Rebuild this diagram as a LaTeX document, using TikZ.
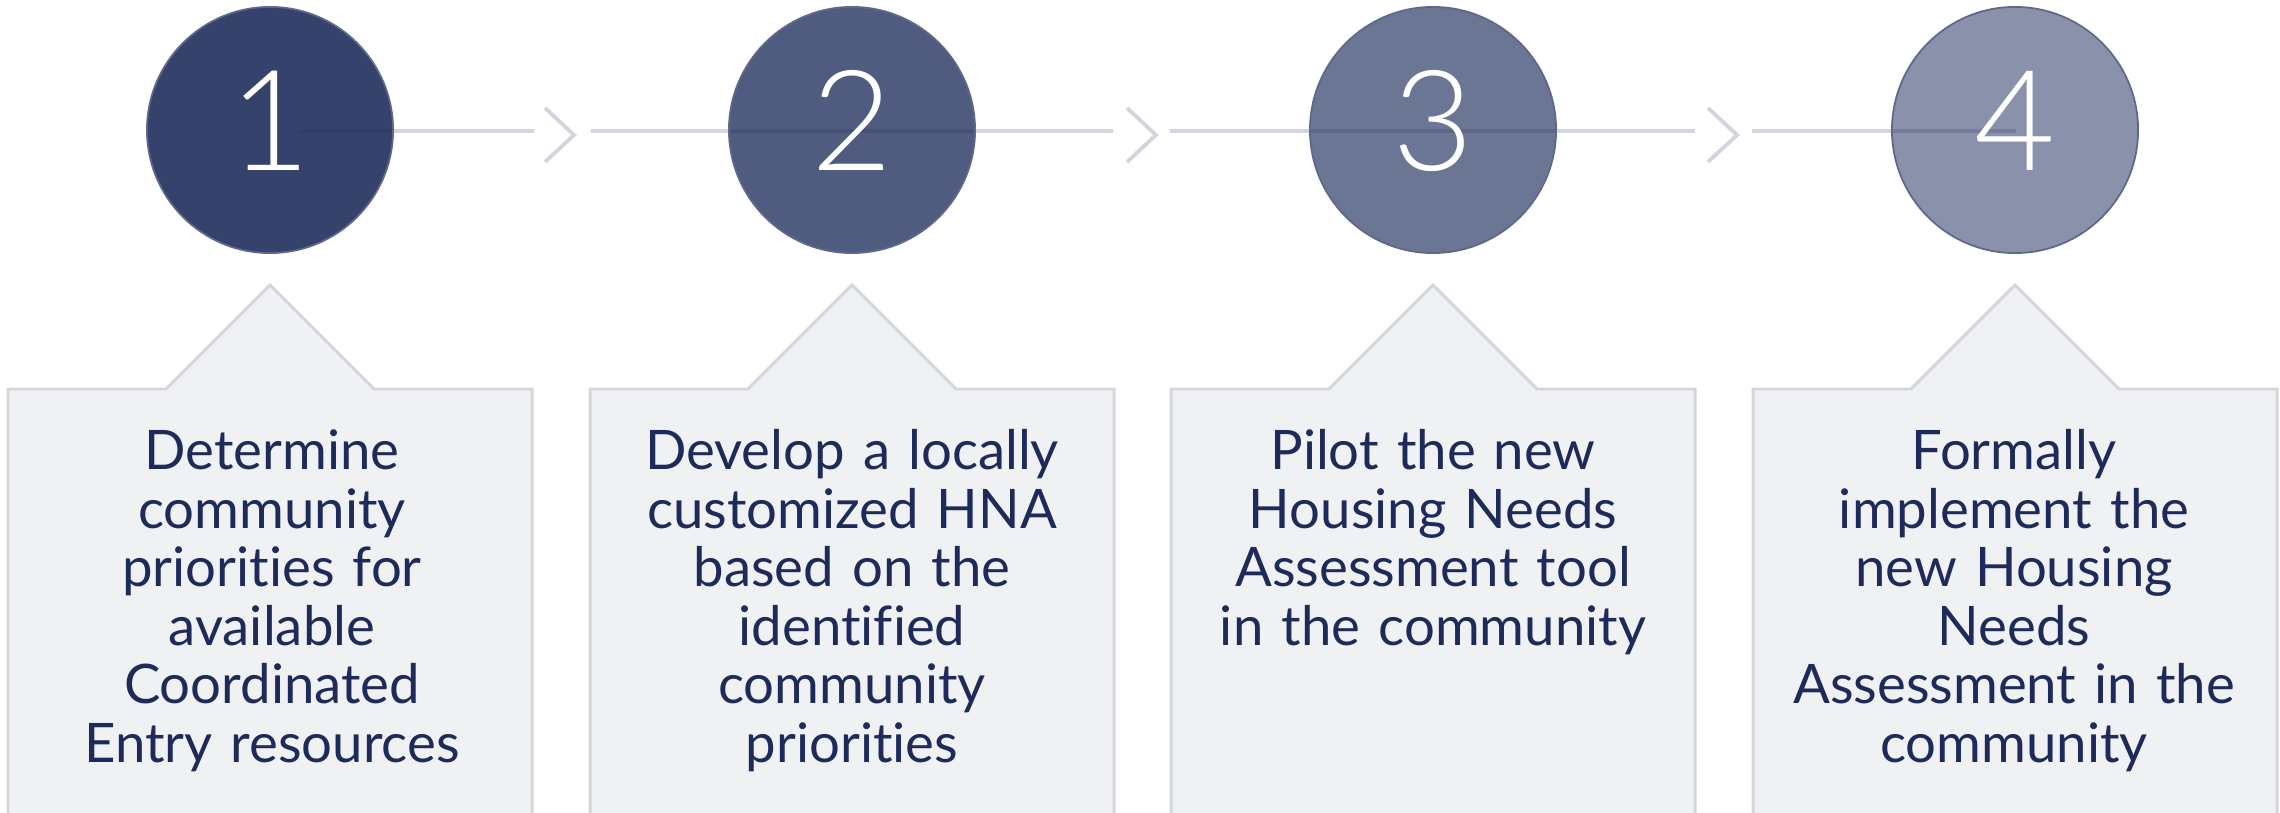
\documentclass[tikz,border=0pt]{standalone}
\usepackage{fontspec}
\setmainfont{Lato}[Ligatures={NoCommon}]
\newfontfamily\numfont{Lato Light}
\definecolor{navy}{HTML}{1F2D5C}
\definecolor{ruleline}{HTML}{D3D5DE}
\definecolor{panelfill}{HTML}{F0F1F3}
\definecolor{paneledge}{HTML}{D4D6DE}
\definecolor{ink}{HTML}{1E2A5A}
\begin{document}
\begin{tikzpicture}[x=0.01cm,y=-0.01cm,
  panel/.style={fill=panelfill,draw=paneledge,line width=0.85pt},
  flowline/.style={draw=ruleline,line width=1.2pt},
  chev/.style={draw=ruleline,line width=1.1pt,line join=miter},
  stepcircle/.style={circle,minimum size=2.46cm,inner sep=0pt,fill=navy,
    draw=navy!72,line width=0.5pt,text opacity=1},
  numtext/.style={anchor=base,inner sep=0pt,text=white,
    font=\numfont\fontsize{39.8}{40}\selectfont},
  steptext/.style={anchor=base,inner sep=0pt,text width=5cm,align=center,
    text=ink,font=\fontsize{15.5}{16.62}\selectfont}]
\useasboundingbox (0,0) rectangle (2280,813);
\clip (0,0) rectangle (2280,813);

% call-out panels with a pointed top
\foreach \cx in {270,852,1433,2015}{
  \path[panel] (\cx-262,840) -- (\cx-262,389) -- (\cx-104,389) -- (\cx,285)
    -- (\cx+104,389) -- (\cx+262,389) -- (\cx+262,840) -- cycle;
}

% timeline segments
\coordinate (l1a) at (300,131);  \coordinate (l1b) at (534,131);
\coordinate (l2a) at (591,131);  \coordinate (l2b) at (1113,131);
\coordinate (l3a) at (1170,131); \coordinate (l3b) at (1695,131);
\coordinate (l4a) at (1752,131); \coordinate (l4b) at (2016,131);
\draw[flowline] (l1a) -- (l1b);
\draw[flowline] (l2a) -- (l2b);
\draw[flowline] (l3a) -- (l3b);
\draw[flowline] (l4a) -- (l4b);

% chevrons between segments
\coordinate (k1) at (574,135);
\coordinate (k2) at (1156,135);
\coordinate (k3) at (1737,135);
\foreach \k in {k1,k2,k3}{
  \draw[chev] ([shift={(-29,-27)}]\k) -- (\k) -- ([shift={(-29,27)}]\k);
}

% numbered step circles
\node[stepcircle,fill opacity=0.90] (c1) at (270,130) {};
\node[stepcircle,fill opacity=0.78] (c2) at (852,130) {};
\node[stepcircle,fill opacity=0.66] (c3) at (1433,130) {};
\node[stepcircle,fill opacity=0.52] (c4) at (2015,130) {};
\node[numtext] (n1) at (270,171) {1};
\node[numtext] (n2) at (852,171) {2};
\node[numtext] (n3) at (1433,171) {3};
\node[numtext] (n4) at (2015,171) {4};

% step descriptions
\node[steptext] (t1) at (272,470) {Determine\\community\\priorities for\\available\\Coordinated\\Entry resources};
\node[steptext] (t2) at (852,470) {Develop a locally\\customized HNA\\based on the\\identified\\community\\priorities};
\node[steptext] (t3) at (1433,470) {Pilot the new\\Housing Needs\\Assessment tool\\in the community};
\node[steptext] (t4) at (2014,470) {Formally\\implement the\\new Housing\\Needs\\Assessment in the\\community};
\end{tikzpicture}
\end{document}
